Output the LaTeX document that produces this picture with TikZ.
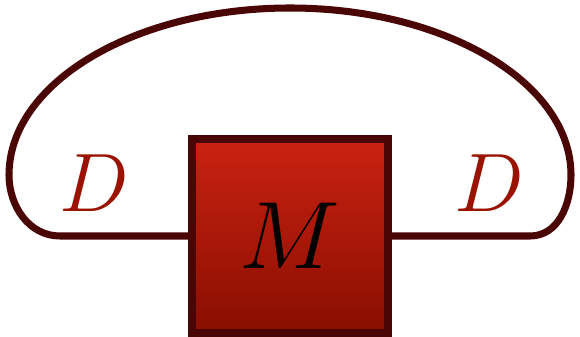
\documentclass[tikz,border=0pt]{standalone}
\usepackage{fix-cm}
\usetikzlibrary{positioning}
\definecolor{wirecol}{HTML}{4A0505}
\definecolor{labelcol}{HTML}{9A1300}
\definecolor{boxtop}{HTML}{CA2211}
\definecolor{boxbot}{HTML}{880E00}

\begin{document}
\begin{tikzpicture}[line width=5pt,
  mapbox/.style={draw=wirecol, line width=5.7pt, top color=boxtop, bottom color=boxbot,
    minimum width=4.9cm, minimum height=4.85cm},
  dimlabel/.style={text=labelcol, font=\fontsize{59}{61}\selectfont}]
  \useasboundingbox (0,0) rectangle (14.5,8.4);
  \node[mapbox] (M) at (7.25,2.5) {\fontsize{68}{70}\selectfont $M$};
  \coordinate (wl) at (1.5,2.5);
  \coordinate (wr) at (13.25,2.5);
  % trace loop
  \draw[wirecol] (M.west) -- (wl) to[out=180,in=270] (0.225,4.025)
    arc[start angle=180, end angle=0, x radius=7.025cm, y radius=4.175cm]
    to[out=270,in=0] (wr) -- (M.east);
  \node[dimlabel] (Dl) at (2.35,3.825) {$D$};
  \node[dimlabel] (Dr) at (12.225,3.825) {$D$};
\end{tikzpicture}
\end{document}
